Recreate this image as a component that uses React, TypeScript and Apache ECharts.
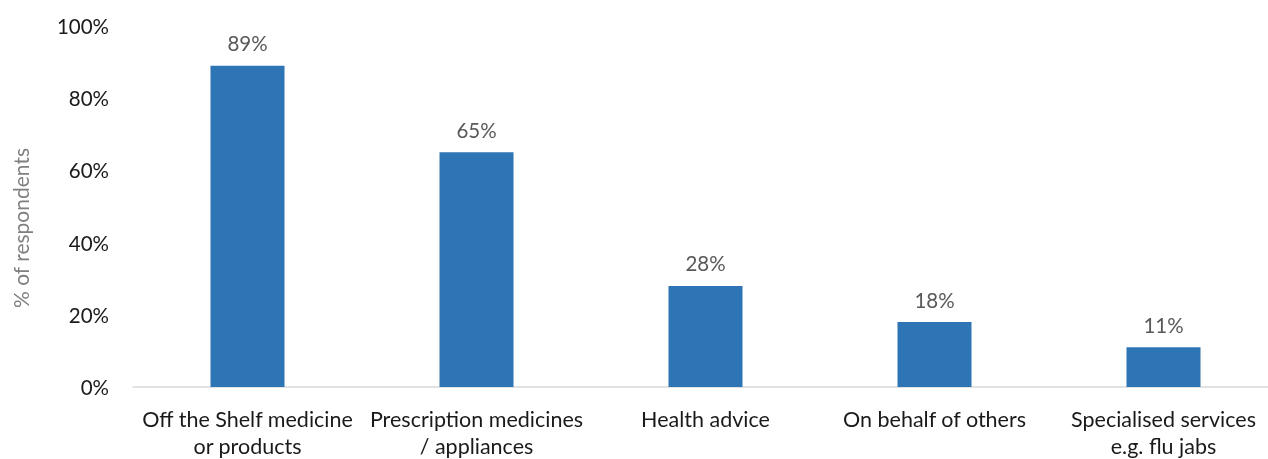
import React, { useEffect, useRef } from "react";
import * as echarts from "echarts";

const categories = [
  "Off the Shelf medicine\nor products",
  "Prescription medicines\n/ appliances",
  "Health advice",
  "On behalf of others",
  "Specialised services\ne.g. flu jabs",
];
const values = [89, 65, 28, 18, 11];
const yTicks = [0, 20, 40, 60, 80, 100];
const yAxisTitle = "% of respondents";

const FONT = "Lato, 'Noto Sans', sans-serif";

export default function App() {
  const ref = useRef<HTMLDivElement>(null);
  useEffect(() => {
    if (!ref.current) return;
    const chart = echarts.init(ref.current, null, { renderer: "svg" });
    chart.setOption({
      animation: false,
      textStyle: { fontFamily: FONT },
      grid: { left: 133, right: 0, top: 26, bottom: 71, containLabel: false },
      graphic: [
        {
          type: "text",
          x: 20,
          y: 228,
          rotation: Math.PI / 2,
          style: {
            text: yAxisTitle,
            fill: "#808080",
            font: `21px ${FONT}`,
            align: "center",
            verticalAlign: "middle",
          },
        },
      ],
      xAxis: {
        type: "category",
        data: categories,
        axisLine: { show: true, lineStyle: { color: "#d9d9d9", width: 1.5 } },
        axisTick: { show: false },
        axisLabel: {
          color: "#1a1a1a",
          fontSize: 21.5,
          fontFamily: FONT,
          lineHeight: 27,
          margin: 18,
          interval: 0,
        },
      },
      yAxis: {
        type: "value",
        min: yTicks[0],
        max: yTicks[yTicks.length - 1],
        interval: 20,
        splitLine: { show: false },
        axisLine: { show: false },
        axisTick: { show: false },
        axisLabel: {
          formatter: "{value}%",
          color: "#1a1a1a",
          fontSize: 20.5,
          fontFamily: FONT,
          margin: 24,
        },
      },
      series: [
        {
          type: "bar",
          data: values,
          barWidth: 74,
          itemStyle: { color: "#2e75b6" },
          label: {
            show: true,
            position: "top",
            formatter: "{c}%",
            color: "#595959",
            fontSize: 20.5,
            fontFamily: FONT,
            distance: 12,
          },
        },
      ],
    });
    return () => chart.dispose();
  }, []);
  return (
    <div
      ref={ref}
      style={{ position: "fixed", left: 0, top: 0, width: 1278, height: 459 }}
    />
  );
}
